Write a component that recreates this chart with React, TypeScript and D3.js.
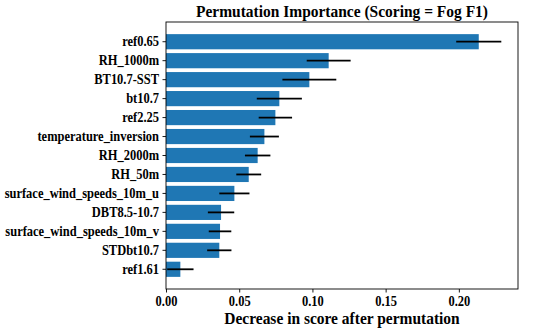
import React, { useEffect, useRef } from "react";
import * as d3 from "d3";

// features, top to bottom
const features = [
  "ref0.65",
  "RH_1000m",
  "BT10.7-SST",
  "bt10.7",
  "ref2.25",
  "temperature_inversion",
  "RH_2000m",
  "RH_50m",
  "surface_wind_speeds_10m_u",
  "DBT8.5-10.7",
  "surface_wind_speeds_10m_v",
  "STDbt10.7",
  "ref1.61",
];
const importanceMean = [0.2136, 0.1111, 0.0979, 0.0774, 0.0747, 0.0672, 0.0626, 0.0565, 0.0467, 0.0376, 0.0369, 0.0364, 0.0098];
const importanceStd = [0.0154, 0.015, 0.0184, 0.0154, 0.0114, 0.0099, 0.0087, 0.0085, 0.0103, 0.009, 0.0077, 0.0083, 0.009];
const xTicks = [0, 0.05, 0.1, 0.15, 0.2];

const W = 550, H = 330;
const margin = { top: 22, right: 32, bottom: 41, left: 166 };
const FONT = "'Liberation Serif', 'Times New Roman', serif";
const SQUISH = 0.91; // the original image is a bit narrower than tall

// narrow a text element horizontally, keeps its anchor
function squish(node: SVGTextElement) {
  const len = node.getComputedTextLength();
  node.setAttribute("textLength", String(len * SQUISH));
  node.setAttribute("lengthAdjust", "spacingAndGlyphs");
}

export default function App() {
  const ref = useRef<SVGSVGElement>(null);

  useEffect(() => {
    document.body.style.margin = "0";
    const svg = d3.select(ref.current);
    svg.selectAll("*").remove();

    const width = W - margin.left - margin.right;
    const height = H - margin.top - margin.bottom;

    const g = svg.append("g").attr("transform", `translate(${margin.left},${margin.top})`);

    const x = d3.scaleLinear().domain([0, 0.2404]).range([0, width]);
    const y = d3.scaleBand<string>()
      .domain(features)
      .range([0, height])
      .paddingInner(0.2)
      .paddingOuter(0.64);

    const data = features.map((f, i) => ({ f, v: importanceMean[i], s: importanceStd[i] }));

    g.selectAll("rect.bar")
      .data(data)
      .join("rect")
      .attr("class", "bar")
      .attr("x", x(0))
      .attr("y", d => y(d.f) as number)
      .attr("width", d => x(d.v) - x(0))
      .attr("height", y.bandwidth())
      .attr("fill", "#1f77b4");

    g.selectAll("line.err")
      .data(data)
      .join("line")
      .attr("class", "err")
      .attr("x1", d => x(d.v - d.s))
      .attr("x2", d => x(d.v + d.s))
      .attr("y1", d => (y(d.f) as number) + y.bandwidth() / 2)
      .attr("y2", d => (y(d.f) as number) + y.bandwidth() / 2)
      .attr("stroke", "black")
      .attr("stroke-width", 1.8);

    const xAxis = g.append("g")
      .attr("transform", `translate(0,${height})`)
      .call(d3.axisBottom(x).tickValues(xTicks).tickFormat(d3.format(".2f")).tickSize(3.5).tickPadding(4));
    const yAxis = g.append("g")
      .call(d3.axisLeft(y).tickSize(3.5).tickPadding(3.5));

    for (const ax of [xAxis, yAxis]) {
      ax.select(".domain").remove();
      ax.selectAll("text")
        .attr("font-family", FONT)
        .attr("font-weight", "bold")
        .attr("font-size", 13.7)
        .attr("fill", "black");
      ax.selectAll<SVGTextElement, unknown>("text").each(function () { squish(this); });
      ax.selectAll("line").attr("stroke", "black").attr("stroke-width", 0.9);
    }

    g.append("rect")
      .attr("x", 0)
      .attr("y", 0)
      .attr("width", width)
      .attr("height", height)
      .attr("fill", "none")
      .attr("stroke", "black")
      .attr("stroke-width", 0.9);

    svg.append("text")
      .attr("x", margin.left + width / 2)
      .attr("y", 17)
      .attr("text-anchor", "middle")
      .attr("font-family", FONT)
      .attr("font-weight", "bold")
      .attr("font-size", 17)
      .text("Permutation Importance (Scoring = Fog F1)")
      .each(function () { squish(this as SVGTextElement); });

    svg.append("text")
      .attr("x", margin.left + width / 2)
      .attr("y", 324)
      .attr("text-anchor", "middle")
      .attr("font-family", FONT)
      .attr("font-weight", "bold")
      .attr("font-size", 17)
      .text("Decrease in score after permutation")
      .each(function () { squish(this as SVGTextElement); });
  }, []);

  return <svg ref={ref} width={W} height={H} style={{ display: "block", background: "white" }} />;
}
